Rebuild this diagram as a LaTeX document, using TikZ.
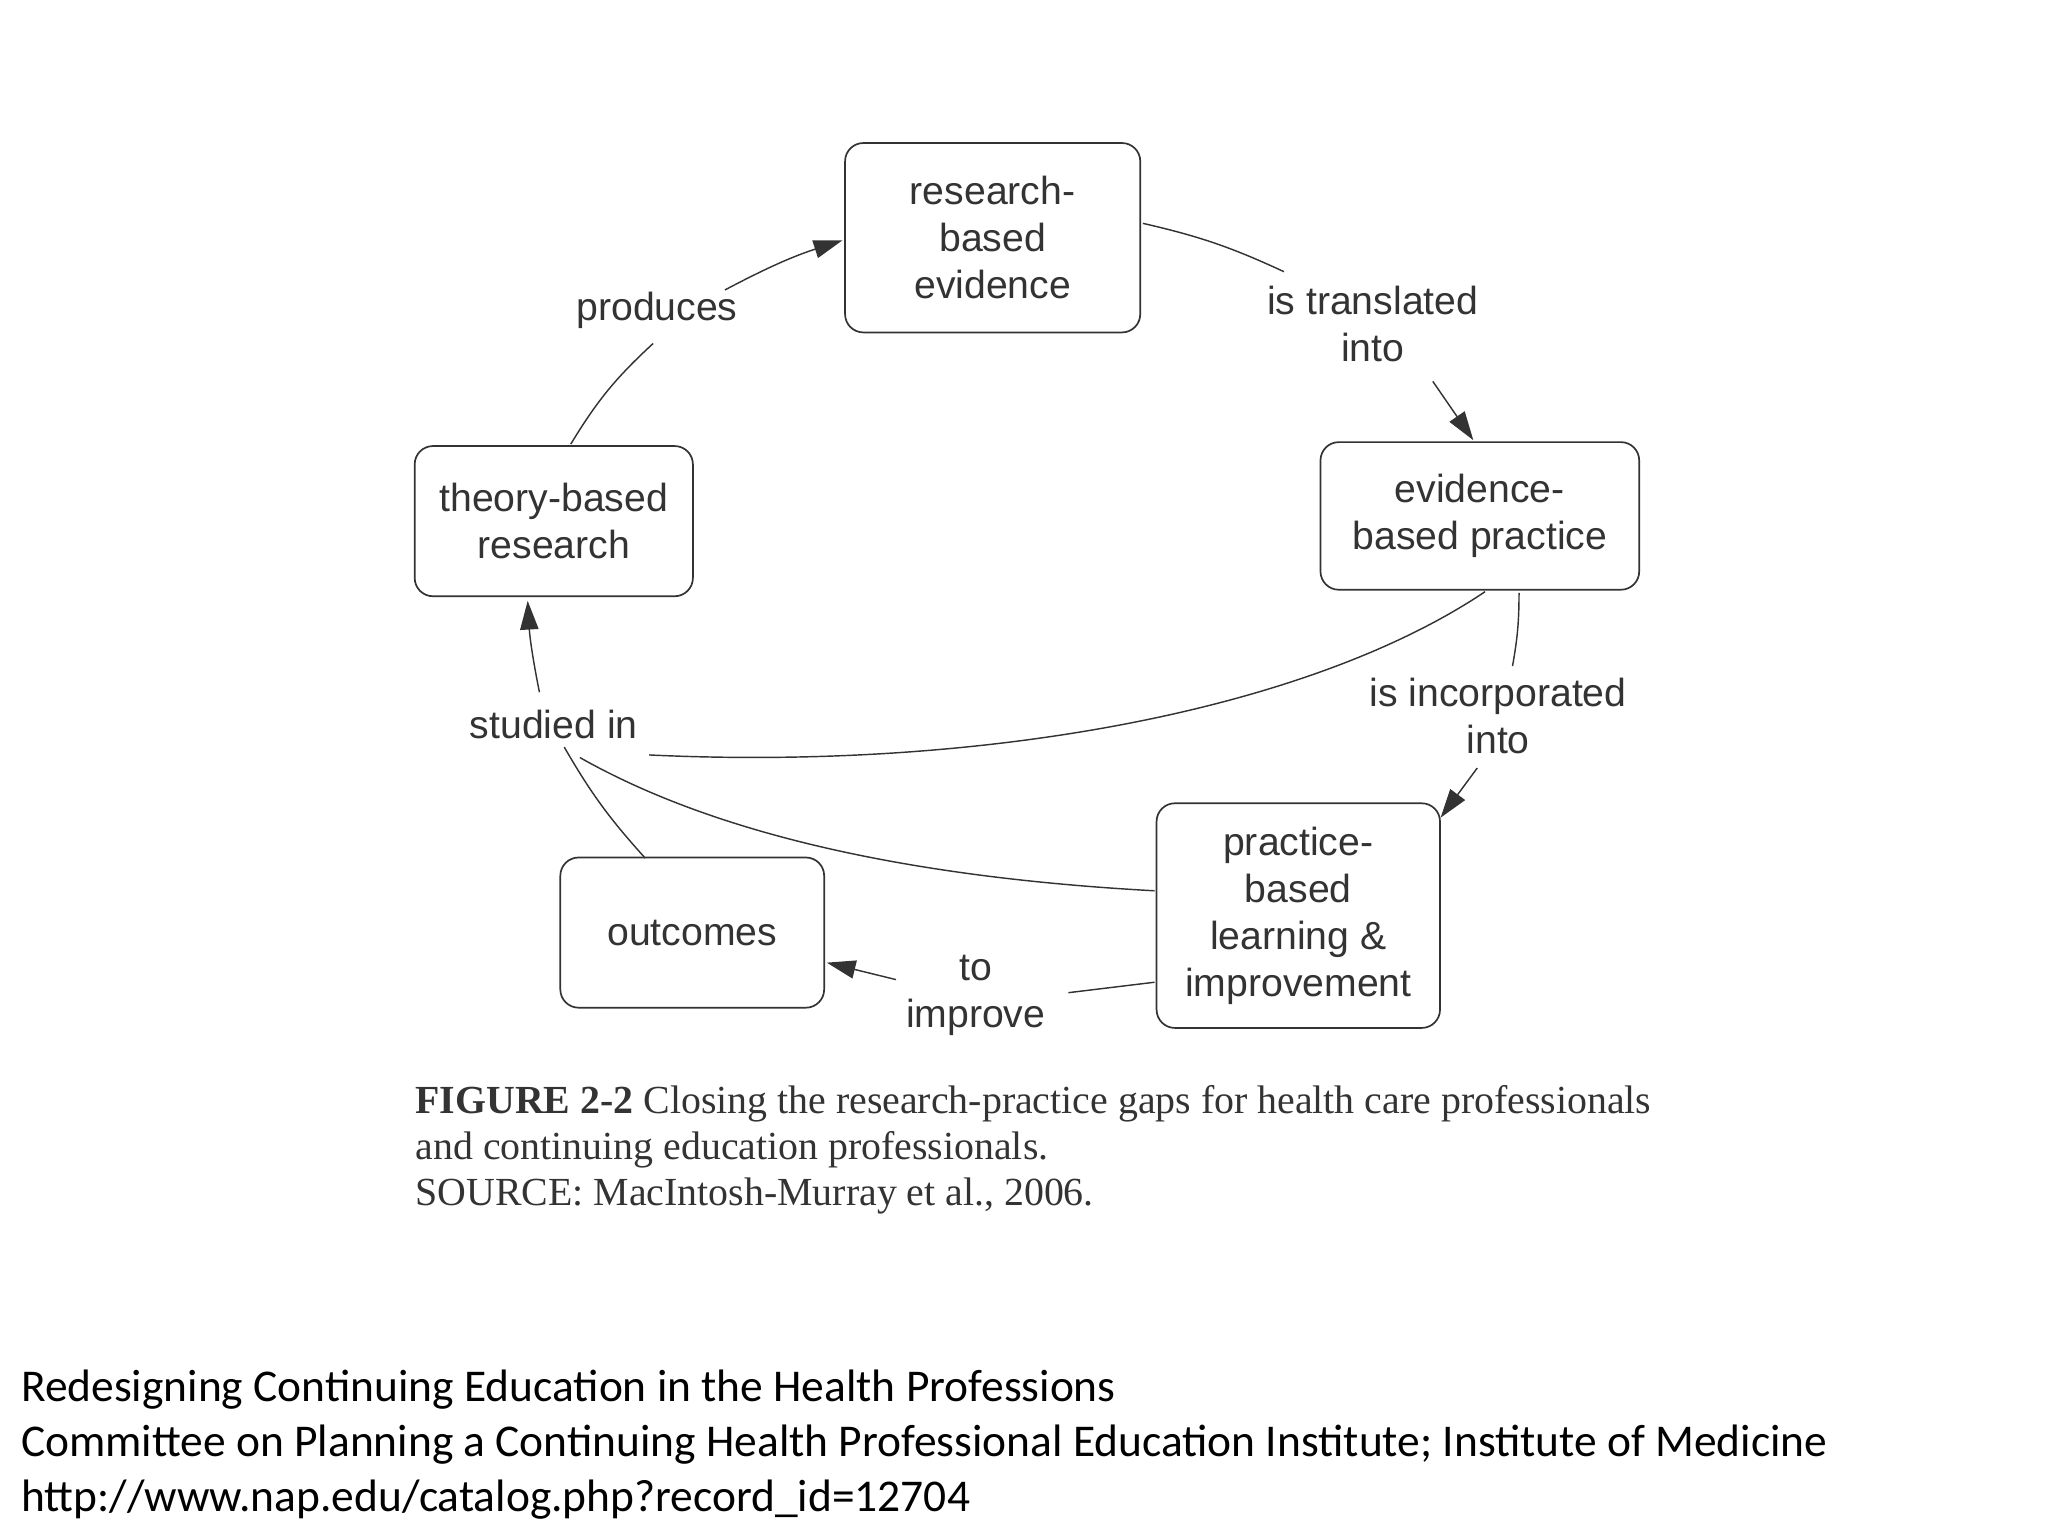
\documentclass[tikz,border=0pt]{standalone}
\usepackage{fontspec}
\setmainfont{Liberation Sans}
\newfontfamily\capfont{Liberation Serif}
\newfontfamily\botfont{Carlito}
\usetikzlibrary{arrows.meta}
\definecolor{ink}{HTML}{333333}
\begin{document}
\begin{tikzpicture}[x=1pt,y=-1pt,
  box/.style={draw=ink,line width=1.3pt,rounded corners=14pt,inner sep=0pt,text=ink,align=center,font=\fontsize{30}{36}\selectfont},
  lab/.style={text=ink,align=center,font=\fontsize{30}{36}\selectfont,inner sep=2pt},
  ln/.style={draw=ink,line width=1.1pt},
  ar/.style={ln,-{Triangle[length=22pt,width=14pt]}}]
\useasboundingbox (0,0) rectangle (1568,1176);
\node[box,minimum width=226pt,minimum height=145pt] (rbe) at (760,182) {research-\\based\\evidence};
\node[box,minimum width=244pt,minimum height=113pt] (ebp) at (1133,395) {evidence-\\based practice};
\node[box,minimum width=217pt,minimum height=172pt] (pbl) at (994,701) {practice-\\based\\learning \&\\improvement};
\node[box,minimum width=202pt,minimum height=115pt] (out) at (530,714) {outcomes};
\node[box,minimum width=213pt,minimum height=115pt] (tbr) at (424,399) {theory-based\\research};
\node[lab] (prod) at (503,238) {produces};
\node[lab] (trans) at (1051,248) {is translated\\into};
\node[lab] (inc) at (1147,548) {is incorporated\\into};
\node[lab] (imp) at (747,762) {to\\improve};
\node[lab] (stud) at (424,555) {studied in};
\coordinate (a1) at (437,340); \coordinate (a2) at (500,263);
\coordinate (a3) at (555,222); \coordinate (a4) at (645,184);
\draw[ln] (a1) to[bend left=8] (a2);
\draw[ar] (a3) to[bend left=5] (a4);
\coordinate (b1) at (875,171); \coordinate (b2) at (983,208);
\coordinate (b3) at (1097,292); \coordinate (b4) at (1128,337);
\draw[ln] (b1) to[bend left=6] (b2);
\draw[ar] (b3) to (b4);
\coordinate (c1) at (1163,454); \coordinate (c2) at (1158,510);
\coordinate (c3) at (1131,588); \coordinate (c4) at (1103,626);
\draw[ln] (c1) to[bend left=5] (c2);
\draw[ar] (c3) to (c4);
\coordinate (d1) at (884,752); \coordinate (d2) at (818,760);
\coordinate (d3) at (686,750); \coordinate (d4) at (633,737);
\draw[ln] (d1) to (d2);
\draw[ar] (d3) to (d4);
\coordinate (e1) at (494,657); \coordinate (e2) at (432,572);
\coordinate (e3) at (413,530); \coordinate (e4) at (404,460);
\draw[ln] (e1) to[bend left=6] (e2);
\draw[ar] (e3) to[bend left=4] (e4);
\coordinate (f1) at (1137,453); \coordinate (f2) at (497,578);
\draw[ln] (f1) .. controls (1000,545) and (750,590) .. (f2);
\coordinate (g1) at (884,682); \coordinate (g2) at (444,580);
\draw[ln] (g1) .. controls (700,672) and (550,640) .. (g2);
\node[anchor=north west,inner sep=0pt,align=left,text=ink,font=\capfont\fontsize{30.5}{35}\selectfont] (cap) at (318,831)
 {\textbf{FIGURE 2-2} Closing the research-practice gaps for health care professionals\\and continuing education professionals.\\SOURCE: MacIntosh-Murray et al., 2006.};
\node[anchor=north west,inner sep=0pt,align=left,font=\botfont\fontsize{34.8}{42}\selectfont] (bot) at (16,1049)
 {Redesigning Continuing Education in the Health Professions\\Committee on Planning a Continuing Health Professional Education Institute; Institute of Medicine\\http://www.nap.edu/catalog.php?record\_id=12704};
\end{tikzpicture}
\end{document}
